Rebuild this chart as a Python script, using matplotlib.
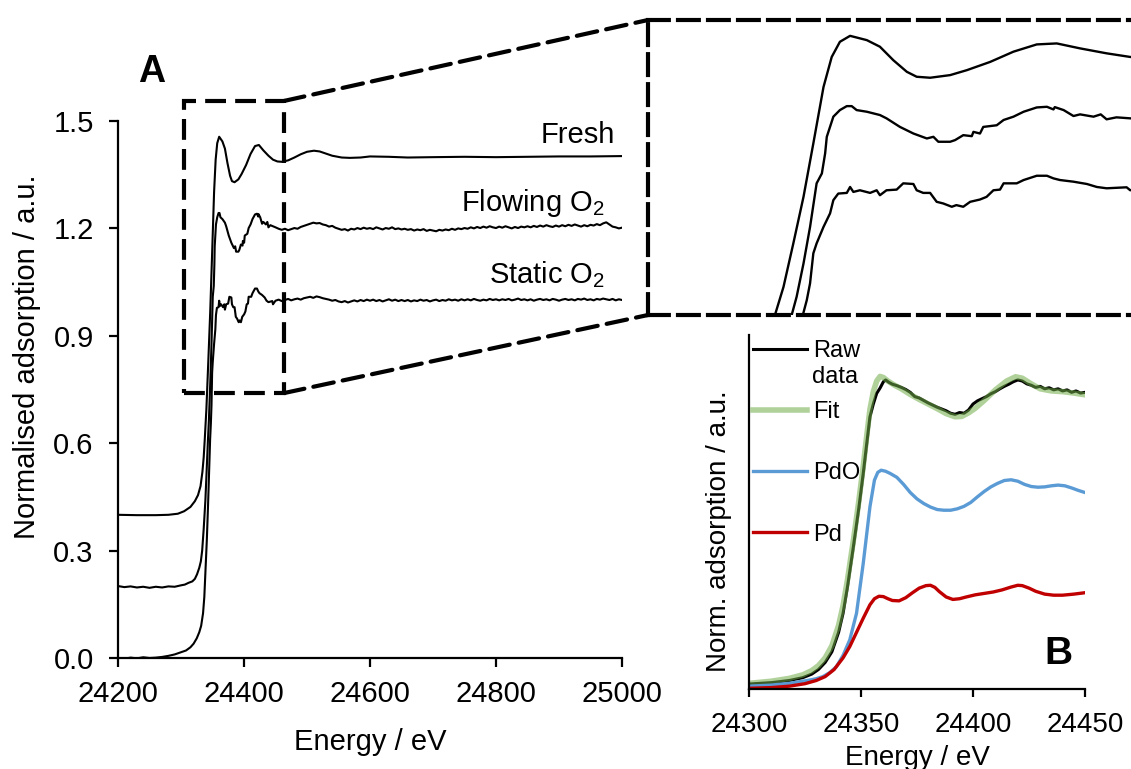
import matplotlib
matplotlib.use("Agg")
import matplotlib.pyplot as plt
from matplotlib.patches import Rectangle, ConnectionPatch

plt.rcParams["font.family"] = ["Liberation Sans", "DejaVu Sans"]
plt.rcParams["axes.unicode_minus"] = False

# ========== Panel A data ==========
fresh_e = [24200, 24230, 24260, 24280, 24295, 24305, 24315, 24322, 24327, 24331,
           24334, 24336, 24337.7, 24340.3, 24343.3, 24346.4, 24349.4, 24352.5, 24355, 24357.5,
           24360.6, 24365.7, 24369.7, 24373.8, 24377.9, 24380.9, 24385, 24391.1, 24396.2, 24403.3,
           24410.4, 24417.5, 24423.6, 24430.7, 24438.8, 24446, 24453, 24460, 24470, 24480,
           24490, 24500, 24511, 24520, 24530, 24540, 24555, 24568, 24585, 24600,
           24630, 24660, 24700, 24750, 24800, 24850, 24900, 24950, 25000]
fresh_mu = [0.400, 0.399, 0.399, 0.400, 0.403, 0.410, 0.422, 0.438, 0.455, 0.480,
            0.520, 0.560, 0.610, 0.695, 0.827, 0.968, 1.130, 1.301, 1.392, 1.438,
            1.456, 1.443, 1.423, 1.382, 1.347, 1.332, 1.329, 1.337, 1.352, 1.377,
            1.408, 1.430, 1.433, 1.418, 1.403, 1.392, 1.387, 1.386, 1.390, 1.398,
            1.407, 1.414, 1.417, 1.415, 1.409, 1.403, 1.398, 1.397, 1.398, 1.401,
            1.400, 1.398, 1.399, 1.400, 1.399, 1.400, 1.401, 1.401, 1.402]

flowing_edge_e = [24200, 24210, 24220, 24230, 24240, 24250, 24260, 24270, 24280, 24290,
                  24300, 24306, 24312, 24318, 24322, 24325.5, 24329, 24331.5, 24333.6, 24336,
                  24338.7, 24340.8, 24342.8, 24344.3, 24346.4, 24348.4, 24350.4, 24352, 24353, 24353.5,
                  24355.5, 24357.5, 24359.6, 24361.1, 24362.6, 24365.7, 24369.7, 24371.7, 24375.8, 24379.9,
                  24384, 24386, 24387.5, 24391.1, 24392.6, 24395.1, 24397.7, 24398.2, 24400.2, 24401.2,
                  24405.3, 24407.4, 24410.4, 24413.5, 24417.5, 24420.6, 24422.6, 24423, 24425.7, 24428.7,
                  24430.7, 24434.8, 24437, 24438.8, 24441.8, 24446]
flowing_edge_mu = [0.201, 0.198, 0.200, 0.197, 0.199, 0.196, 0.199, 0.197, 0.200, 0.199,
                   0.203, 0.205, 0.210, 0.214, 0.221, 0.234, 0.252, 0.270, 0.300, 0.360,
                   0.440, 0.530, 0.610, 0.665, 0.766, 0.877, 1.009, 1.039, 1.100, 1.150,
                   1.211, 1.231, 1.243, 1.243, 1.231, 1.226, 1.216, 1.206, 1.180, 1.160,
                   1.145, 1.150, 1.135, 1.135, 1.140, 1.155, 1.152, 1.165, 1.160, 1.180,
                   1.185, 1.201, 1.211, 1.226, 1.239, 1.241, 1.233, 1.240, 1.231, 1.213,
                   1.218, 1.211, 1.218, 1.203, 1.209, 1.206]

static_edge_e = [24200, 24210, 24220, 24230, 24240, 24250, 24260, 24270, 24280, 24290,
                 24300, 24308, 24315, 24320, 24325, 24329, 24332, 24335, 24337, 24339,
                 24341, 24343, 24344.8, 24346.2, 24347.4, 24348.4, 24349.4, 24350.4, 24352.5, 24354.5,
                 24355.5, 24357, 24359.6, 24360.6, 24361.6, 24363.6, 24366.7, 24368.7, 24369.7, 24371.7,
                 24374.8, 24376.8, 24379.9, 24380.9, 24382.9, 24385, 24387, 24389, 24391.6, 24393,
                 24395.1, 24397.2, 24400.2, 24402.2, 24404.3, 24406.3, 24407.4, 24411.4, 24413.5, 24417.5,
                 24420.6, 24422.6, 24424.6, 24428.7, 24432.8, 24435.8, 24438.8, 24444.9, 24446]
static_edge_mu = [0.000, -0.002, 0.001, -0.001, 0.002, 0.000, 0.001, 0.003, 0.006, 0.010,
                  0.016, 0.021, 0.030, 0.040, 0.055, 0.072, 0.090, 0.125, 0.170, 0.250,
                  0.330, 0.430, 0.530, 0.610, 0.655, 0.706, 0.797, 0.827, 0.877, 0.918,
                  0.958, 0.978, 0.980, 0.998, 0.983, 0.988, 0.980, 0.988, 0.973, 0.988,
                  0.990, 1.009, 1.007, 0.988, 0.980, 0.980, 0.953, 0.948, 0.938, 0.943,
                  0.938, 0.953, 0.960, 0.968, 0.988, 0.990, 1.009, 1.009, 1.019, 1.032,
                  1.032, 1.024, 1.019, 1.014, 1.007, 0.998, 0.994, 0.997, 0.988]

# EXAFS tail, sampled every 5 eV
tail_e = [24450, 24455, 24460, 24465, 24470, 24475, 24480, 24485, 24490, 24495, 24500,
          24505, 24510, 24515, 24520, 24525, 24530, 24535, 24540, 24545, 24550,
          24555, 24560, 24565, 24570, 24575, 24580, 24585, 24590, 24595, 24600,
          24605, 24610, 24615, 24620, 24625, 24630, 24635, 24640, 24645, 24650,
          24655, 24660, 24665, 24670, 24675, 24680, 24685, 24690, 24695, 24700,
          24705, 24710, 24715, 24720, 24725, 24730, 24735, 24740, 24745, 24750,
          24755, 24760, 24765, 24770, 24775, 24780, 24785, 24790, 24795, 24800,
          24805, 24810, 24815, 24820, 24825, 24830, 24835, 24840, 24845, 24850,
          24855, 24860, 24865, 24870, 24875, 24880, 24885, 24890, 24895, 24900,
          24905, 24910, 24915, 24920, 24925, 24930, 24935, 24940, 24945, 24950,
          24955, 24960, 24965, 24970, 24975, 24980, 24985, 24990, 24995, 25000]
flowing_tail = [1.203, 1.199, 1.196, 1.199, 1.195, 1.198, 1.201, 1.199, 1.204, 1.207, 1.210,
                1.213, 1.216, 1.214, 1.215, 1.211, 1.209, 1.205, 1.207, 1.202, 1.199,
                1.196, 1.198, 1.194, 1.199, 1.197, 1.201, 1.198, 1.202, 1.199, 1.201,
                1.198, 1.203, 1.200, 1.197, 1.201, 1.199, 1.203, 1.198, 1.200, 1.197,
                1.199, 1.196, 1.198, 1.194, 1.197, 1.195, 1.198, 1.193, 1.196, 1.194,
                1.192, 1.196, 1.194, 1.197, 1.195, 1.199, 1.196, 1.200, 1.198, 1.201,
                1.199, 1.203, 1.200, 1.204, 1.201, 1.205, 1.202, 1.206, 1.203, 1.201,
                1.205, 1.202, 1.206, 1.203, 1.200, 1.204, 1.201, 1.205, 1.203, 1.206,
                1.203, 1.207, 1.204, 1.208, 1.205, 1.209, 1.206, 1.204, 1.208, 1.205,
                1.209, 1.206, 1.210, 1.207, 1.211, 1.208, 1.205, 1.209, 1.206, 1.210,
                1.208, 1.212, 1.209, 1.214, 1.217, 1.211, 1.205, 1.203, 1.200, 1.202]
static_tail = [0.998, 1.001, 0.997, 1.000, 1.003, 0.999, 1.002, 1.004, 1.001, 1.005, 1.007,
               1.009, 1.006, 1.010, 1.008, 1.005, 1.003, 1.001, 0.998, 1.000, 0.996,
               0.994, 0.997, 0.993, 0.996, 0.999, 0.996, 1.000, 0.997, 1.001, 0.998,
               1.001, 0.997, 1.000, 0.996, 0.999, 1.002, 0.998, 1.001, 0.997, 1.000,
               0.997, 1.000, 0.996, 0.999, 0.997, 1.001, 0.998, 1.000, 0.996, 0.999,
               1.001, 0.997, 1.000, 0.998, 1.002, 0.999, 1.001, 0.998, 1.002, 0.999,
               1.002, 0.999, 1.003, 1.000, 0.998, 1.001, 0.999, 1.003, 1.000, 1.002,
               0.999, 1.002, 1.000, 1.003, 0.999, 1.001, 1.004, 1.000, 1.002, 0.999,
               1.002, 0.998, 1.001, 1.003, 1.000, 1.002, 0.999, 1.003, 1.001, 0.998,
               1.001, 1.003, 1.000, 1.002, 0.999, 1.003, 1.001, 1.004, 1.000, 1.002,
               0.999, 1.003, 1.001, 1.004, 1.002, 1.000, 1.003, 0.999, 1.002, 1.000]

flowing_e = flowing_edge_e + tail_e
flowing_mu = flowing_edge_mu + flowing_tail
static_e = static_edge_e + tail_e
static_mu = static_edge_mu + static_tail

# ========== Panel B data (XANES fit) ==========
raw_e = [24300, 24310, 24318, 24324, 24328, 24331, 24334, 24337, 24340, 24342,
         24344, 24346.6, 24349, 24351, 24352.5, 24354, 24355.5, 24357, 24358.5, 24360,
         24361, 24362.5, 24364, 24366, 24368, 24370, 24372, 24374, 24376, 24378,
         24380, 24382, 24384, 24386, 24388, 24390, 24392, 24394, 24396, 24398,
         24400, 24402, 24404, 24406, 24408, 24410, 24412, 24414, 24416, 24418,
         24420, 24422, 24424, 24426, 24428, 24430, 24432, 24434, 24436, 24438,
         24440, 24442, 24444, 24446, 24448, 24450]
raw_mu = [0.014, 0.018, 0.024, 0.032, 0.042, 0.055, 0.075, 0.105, 0.160, 0.214,
          0.290, 0.402, 0.510, 0.609, 0.690, 0.769, 0.805, 0.835, 0.850, 0.868,
          0.873, 0.866, 0.861, 0.857, 0.852, 0.846, 0.838, 0.826, 0.822, 0.815,
          0.808, 0.802, 0.796, 0.791, 0.786, 0.779, 0.776, 0.781, 0.779, 0.788,
          0.805, 0.814, 0.820, 0.826, 0.834, 0.840, 0.848, 0.855, 0.861, 0.868,
          0.873, 0.870, 0.862, 0.858, 0.852, 0.855, 0.848, 0.851, 0.845, 0.848,
          0.842, 0.845, 0.838, 0.842, 0.836, 0.838]

fit_e = [24300, 24310, 24318, 24324, 24328, 24331, 24334, 24337, 24340, 24342,
         24344, 24346.6, 24349, 24351, 24352.5, 24354, 24355.5, 24357, 24358.5, 24360,
         24362, 24365, 24368, 24372, 24376, 24380, 24384, 24388, 24392, 24395,
         24398, 24401, 24405, 24410, 24415, 24419, 24422, 24426, 24430, 24435,
         24440, 24445, 24450]
fit_mu = [0.016, 0.022, 0.030, 0.040, 0.052, 0.066, 0.088, 0.122, 0.180, 0.236,
          0.310, 0.420, 0.530, 0.630, 0.712, 0.790, 0.840, 0.870, 0.883, 0.880,
          0.870, 0.858, 0.848, 0.832, 0.818, 0.805, 0.792, 0.778, 0.769, 0.770,
          0.780, 0.793, 0.815, 0.845, 0.870, 0.882, 0.878, 0.862, 0.848, 0.842,
          0.840, 0.836, 0.831]

pdo_e = [24300, 24310, 24318, 24326, 24330, 24333, 24336, 24339, 24342, 24345,
         24348, 24351, 24354, 24356, 24357.5, 24359, 24361, 24363, 24366, 24369,
         24372, 24375, 24378, 24381, 24384, 24387, 24390, 24393, 24396, 24399,
         24402, 24405, 24408, 24411, 24414, 24417, 24420, 24423, 24426, 24429,
         24432, 24435, 24438, 24441, 24444, 24447, 24450]
pdo_mu = [0.008, 0.011, 0.016, 0.024, 0.029, 0.035, 0.046, 0.063, 0.095, 0.139,
          0.214, 0.355, 0.515, 0.590, 0.612, 0.618, 0.615, 0.609, 0.598, 0.578,
          0.555, 0.537, 0.524, 0.514, 0.507, 0.505, 0.505, 0.509, 0.516, 0.527,
          0.543, 0.558, 0.571, 0.581, 0.589, 0.591, 0.587, 0.578, 0.572, 0.570,
          0.571, 0.574, 0.576, 0.574, 0.568, 0.561, 0.555]

pd_e = [24300, 24310, 24318, 24325, 24330, 24334, 24338, 24342, 24345, 24348,
        24351, 24354, 24356, 24358, 24360, 24362, 24364, 24367, 24370, 24373,
        24376, 24379, 24381, 24383, 24385, 24388, 24391, 24394, 24397, 24401,
        24405, 24409, 24413, 24417, 24420, 24422, 24425, 24428, 24432, 24436,
        24440, 24445, 24450]
pd_mu = [0.002, 0.004, 0.008, 0.015, 0.024, 0.035, 0.055, 0.088, 0.120, 0.160,
         0.200, 0.238, 0.255, 0.262, 0.261, 0.255, 0.250, 0.249, 0.258, 0.272,
         0.285, 0.292, 0.293, 0.287, 0.275, 0.260, 0.253, 0.255, 0.260, 0.266,
         0.270, 0.274, 0.280, 0.288, 0.293, 0.292, 0.285, 0.276, 0.268, 0.265,
         0.265, 0.268, 0.272]

a_xticks = [24200, 24400, 24600, 24800, 25000]
a_yticks = [0.0, 0.3, 0.6, 0.9, 1.2, 1.5]
b_xticks = [24300, 24350, 24400, 24450]

# zoom window marked on panel A
zoom_x = (24304.8, 24463.5)
zoom_y = (0.740, 1.556)

# ========== layout (pixel boxes) ==========
W, H = 1131, 769


def px_box(l, t, r, b):
    return [l / W, 1 - b / H, (r - l) / W, (b - t) / H]


fig = plt.figure(figsize=(W / 100, H / 100), dpi=100)
ax_a = fig.add_axes(px_box(118, 121, 622, 658))
ax_z = fig.add_axes(px_box(648, 20, 1145, 315))
ax_b = fig.add_axes(px_box(749, 335, 1085, 689))

dash = (0, (5, 2.2))

# ---------- panel A ----------
for e, mu in [(fresh_e, fresh_mu), (flowing_e, flowing_mu), (static_e, static_mu)]:
    ax_a.plot(e, mu, color="black", lw=1.5)
ax_a.set_xlim(24200, 25000)
ax_a.set_ylim(0, 1.5)
ax_a.set_xticks(a_xticks)
ax_a.set_yticks(a_yticks)
ax_a.set_yticklabels([f"{v:.1f}" for v in a_yticks])
for s in ["top", "right"]:
    ax_a.spines[s].set_visible(False)
for s in ["left", "bottom"]:
    ax_a.spines[s].set_linewidth(1.6)
ax_a.tick_params(axis="both", direction="out", length=6.5, width=1.6, labelsize=21)
ax_a.tick_params(axis="y", pad=11)
ax_a.tick_params(axis="x", pad=9.5)
ax_a.set_xlabel("Energy / eV", fontsize=21, labelpad=14)

ax_a.text(24989, 1.439, "Fresh", ha="right", va="baseline", fontsize=21)
ax_a.text(24973, 1.249, r"Flowing O$_\mathregular{2}$", ha="right", va="baseline", fontsize=21)
ax_a.text(24973, 1.048, r"Static O$_\mathregular{2}$", ha="right", va="baseline", fontsize=21)

ax_a.add_patch(Rectangle((zoom_x[0], zoom_y[0]), zoom_x[1] - zoom_x[0], zoom_y[1] - zoom_y[0],
                         fill=False, ec="black", lw=3, ls=dash, clip_on=False))

fig.text(27 / W, 1 - 357 / H, "Normalised adsorption / a.u.", rotation=90,
         ha="center", va="center", fontsize=21)
fig.text(152 / W, 1 - 72 / H, "A", ha="center", va="center", fontsize=27, fontweight="bold")

# ---------- zoomed view ----------
for e, mu in [(fresh_e, fresh_mu), (flowing_e, flowing_mu), (static_e, static_mu)]:
    ax_z.plot(e, mu, color="black", lw=1.7)
ax_z.set_xlim(24299, 24450.5)
ax_z.set_ylim(0.610, 1.504)
ax_z.set_xticks([])
ax_z.set_yticks([])
for s in ax_z.spines.values():
    s.set_linestyle(dash)
    s.set_linewidth(3)

for ya, yb in [(zoom_y[1], 1), (zoom_y[0], 0)]:
    con = ConnectionPatch(xyA=(zoom_x[1], ya), coordsA=ax_a.transData,
                          xyB=(0, yb), coordsB=ax_z.transAxes,
                          color="black", lw=3, ls=dash)
    fig.add_artist(con)

# ---------- panel B ----------
l_raw, = ax_b.plot(raw_e, raw_mu, color="black", lw=2.2)
l_fit, = ax_b.plot(fit_e, fit_mu, color="#70ad47", alpha=0.55, lw=4)
l_pdo, = ax_b.plot(pdo_e, pdo_mu, color="#5b9bd5", lw=2.4)
l_pd, = ax_b.plot(pd_e, pd_mu, color="#c00000", lw=2.4)
ax_b.set_xlim(24300, 24450)
ax_b.set_ylim(0, 1)
ax_b.set_xticks(b_xticks)
ax_b.set_yticks([])
for s in ["top", "right"]:
    ax_b.spines[s].set_visible(False)
for s in ["left", "bottom"]:
    ax_b.spines[s].set_linewidth(1.6)
ax_b.tick_params(axis="x", direction="out", length=5.5, width=1.6, labelsize=20, pad=11)

ax_b.legend([l_raw, l_fit, l_pdo, l_pd], ["Raw", "Fit", "PdO", "Pd"],
            loc="upper left", bbox_to_anchor=(0.012, 0.986), frameon=False,
            fontsize=17, handlelength=2.3, handletextpad=0.25, labelspacing=1.66,
            borderpad=0, borderaxespad=0)
ax_b.text(0.1875, 0.881, "data", transform=ax_b.transAxes, ha="left", va="center", fontsize=17)

fig.text(719 / W, 1 - 531 / H, "Norm. adsorption / a.u.", rotation=90,
         ha="center", va="center", fontsize=20)
fig.text(917 / W, 1 - 765 / H, "Energy / eV", ha="center", va="baseline", fontsize=20)
fig.text(1058 / W, 1 - 654 / H, "B", ha="center", va="center", fontsize=28, fontweight="bold")

fig.savefig("out.png", dpi=100)
